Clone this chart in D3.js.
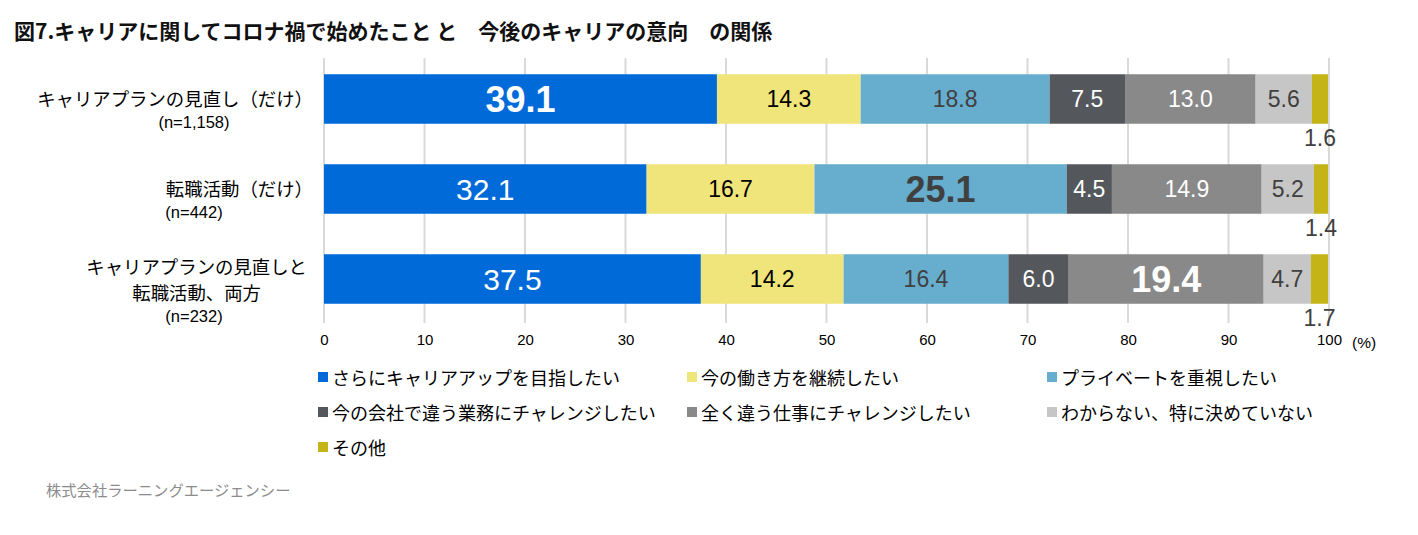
<!DOCTYPE html>
<html><head><meta charset="utf-8">
<script src="https://cdn.jsdelivr.net/npm/d3@7"></script>
<style>
html,body{margin:0;padding:0;background:#fff;}
svg{display:block;}
</style></head>
<body>
<svg id="chart" width="1418" height="535"></svg>
<script>
const title = "図7.キャリアに関してコロナ禍で始めたこと と　今後のキャリアの意向　の関係";
const categories = ["row1", "row2", "row3"];
const categoryLines = [["キャリアプランの見直し（だけ）"], ["転職活動（だけ）"], ["キャリアプランの見直しと", "転職活動、両方"]];
const sampleSizes = ["(n=1,158)", "(n=442)", "(n=232)"];
const seriesNames = ["さらにキャリアアップを目指したい", "今の働き方を継続したい", "プライベートを重視したい",
  "今の会社で違う業務にチャレンジしたい", "全く違う仕事にチャレンジしたい", "わからない、特に決めていない", "その他"];
const seriesColors = ["#006AD9", "#F0E57A", "#66ADCE", "#54575C", "#898989", "#C6C6C6", "#C4B418"];
const labelColors = ["#ffffff", "#000000", "#404040", "#ffffff", "#ffffff", "#404040", "#404040"];
const values = [
  [39.1, 14.3, 18.8, 7.5, 13.0, 5.6, 1.6],
  [32.1, 16.7, 25.1, 4.5, 14.9, 5.2, 1.4],
  [37.5, 14.2, 16.4, 6.0, 19.4, 4.7, 1.7]
];
const highlighted = [0, 2, 4]; // series index shown in bold per row
const xTicks = [0, 10, 20, 30, 40, 50, 60, 70, 80, 90, 100];
const footer = "株式会社ラーニングエージェンシー";

const svg = d3.select("#chart");
const JP = "'Noto Sans CJK JP','Noto Sans',sans-serif";
const NUM = "'Liberation Sans',Arial,sans-serif";

const x = d3.scaleLinear().domain([0, 100]).range([324, 1329]);
const y = d3.scaleBand().domain(categories).range([54, 324]).paddingInner(0.45).paddingOuter(0.225);

// title
svg.append("text").attr("x", 14).attr("y", 39).attr("font-family", JP).attr("font-weight", "bold")
  .attr("font-size", 21).attr("fill", "#111").text(title);

// gridlines
svg.append("g").selectAll("line").data(xTicks).join("line")
  .attr("x1", d => x(d)).attr("x2", d => x(d)).attr("y1", 58).attr("y2", 323)
  .attr("stroke", "#D9D9D9").attr("stroke-width", 2);

// stacked data
const stacked = categories.map((c, i) => {
  let acc = 0;
  return values[i].map((v, j) => { const s = {row: i, cat: c, series: j, v, x0: acc, x1: acc + v}; acc += v; return s; });
});

const gBars = svg.append("g");
stacked.forEach(row => {
  gBars.selectAll(null).data(row).join("rect")
    .attr("x", d => x(d.x0)).attr("width", d => x(d.x1) - x(d.x0))
    .attr("y", d => y(d.cat)).attr("height", y.bandwidth())
    .attr("fill", d => seriesColors[d.series]);
});

// value labels
stacked.forEach(row => {
  row.forEach(d => {
    const cx = (x(d.x0) + x(d.x1)) / 2;
    const cy = y(d.cat) + y.bandwidth() / 2;
    const bold = highlighted[d.row] === d.series;
    const last = d.series === seriesNames.length - 1;
    const fs = bold ? 36 : (d.series === 0 ? 30 : 23);
    svg.append("text")
      .attr("x", cx)
      .attr("y", last ? y(d.cat) + y.bandwidth() + 14 : cy)
      .attr("text-anchor", "middle").attr("dominant-baseline", "central")
      .attr("font-family", NUM).attr("font-size", fs).attr("font-weight", bold ? "bold" : "normal")
      .attr("fill", last ? "#404040" : labelColors[d.series])
      .text(d3.format(".1f")(d.v));
  });
});

// category labels
categories.forEach((c, i) => {
  const cy = y(c) + y.bandwidth() / 2;
  const lines = categoryLines[i];
  const g = svg.append("g");
  const texts = lines.map((t, k) => g.append("text")
    .attr("y", cy - 1 - 12 * (lines.length - 1) + k * 26)
    .attr("dominant-baseline", "central").attr("text-anchor", "middle")
    .attr("font-family", JP).attr("font-size", 18.4).attr("fill", "#000").text(t));
  const maxW = d3.max(texts, t => t.node().getComputedTextLength());
  const trailing = lines.some(t => t.endsWith("）")) ? 8 : 2;
  texts.forEach(t => t.attr("x", 305 + trailing - maxW / 2));
  svg.append("text").attr("x", 194)
    .attr("y", cy - 1 - 12 * (lines.length - 1) + (lines.length - 1) * 26 + 24)
    .attr("dominant-baseline", "central").attr("text-anchor", "middle")
    .attr("font-family", NUM).attr("font-size", 16.5).attr("fill", "#000").text(sampleSizes[i]);
});

// x axis labels
const xAxis = d3.axisBottom(x).tickValues(xTicks).tickSize(0).tickPadding(0).tickFormat(d3.format("d"));
const gx = svg.append("g").attr("transform", "translate(0,334)").call(xAxis);
gx.select(".domain").remove();
gx.selectAll("text").attr("font-family", NUM).attr("font-size", 15).attr("fill", "#000");
svg.append("text").attr("x", 1352).attr("y", 342).attr("dominant-baseline", "central")
  .attr("font-family", NUM).attr("font-size", 15.5).attr("fill", "#000").text("(%)");

// legend
const legX = [318, 687, 1047];
const legY = [377, 412, 447];
seriesNames.forEach((n, i) => {
  const lx = legX[i % 3], ly = legY[Math.floor(i / 3)];
  svg.append("rect").attr("x", lx).attr("y", ly - 5).attr("width", 10).attr("height", 10).attr("fill", seriesColors[i]);
  svg.append("text").attr("x", lx + 14).attr("y", ly).attr("dominant-baseline", "central")
    .attr("font-family", JP).attr("font-size", 18).attr("fill", "#000").text(n);
});

// footer
svg.append("text").attr("x", 46).attr("y", 489).attr("dominant-baseline", "central")
  .attr("font-family", JP).attr("font-size", 15.3).attr("fill", "#8C8C8C").text(footer);
</script>
</body></html>
